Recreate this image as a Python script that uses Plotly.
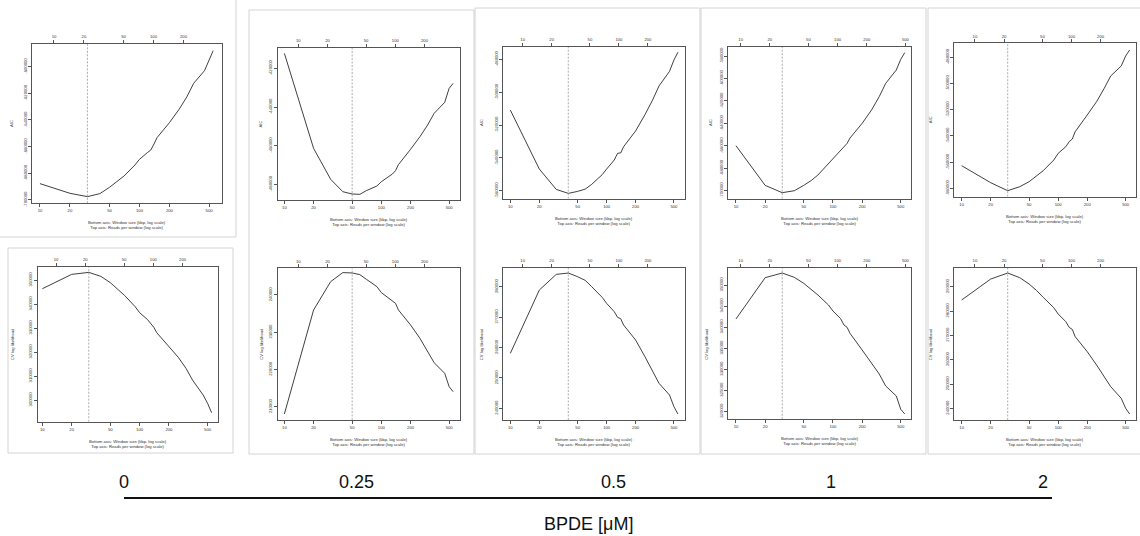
import math
import plotly.graph_objects as go

W, H = 1140, 536

# ---------------- data ----------------
WINDOW_KBP = [10, 20, 30, 40, 50, 60, 70, 90, 100, 120, 130, 140, 150,
              200, 250, 300, 350, 450, 500, 550]
DOSES = ["0", "0.25", "0.5", "1", "2"]
OPTIMUM_KBP = [30, 50, 40, 30, 30]
READS_PER_KBP = [0.723, 0.718, 0.745, 0.895, 0.728]
WINDOW_TICKS = [10, 20, 50, 100, 200, 500]
READS_TICKS = [10, 20, 50, 100, 200, 500]

AIC_0 = [-687750, -695000, -697500, -695250, -690500, -686250, -682000, -673750,
         -669500, -664500, -662500, -658000, -653250, -642000, -632000, -622500,
         -612500, -603000, -595000, -588000]
AIC_025 = [-412240, -461380, -477410, -483790, -485000, -485170, -483270, -480860,
           -478620, -476030, -474650, -472930, -469820, -461890, -455340, -449310,
           -443270, -437590, -430340, -427760]
AIC_05 = [-510900, -546800, -559200, -561600, -560400, -559000, -556100, -550200,
          -546800, -541300, -537200, -537000, -533200, -523600, -513700, -504800,
          -496200, -487300, -480400, -475700]
AIC_1 = [-659890, -695240, -701770, -699990, -695240, -690780, -686030, -675630,
         -671180, -664350, -660190, -657810, -653060, -639990, -628110, -616230,
         -604350, -592470, -582970, -577030]
AIC_2 = [-562680, -575650, -581760, -578710, -574890, -570570, -566500, -558360,
         -553270, -548180, -544360, -542330, -536730, -524010, -513840, -503660,
         -494250, -486610, -478980, -474400]

CV_0 = [346390, 352360, 353190, 351530, 348890, 346110, 343610, 338890, 336390,
        333610, 331670, 330280, 328060, 322220, 317780, 313190, 308330, 302080,
        298610, 294720]
CV_025 = [208050, 235970, 243580, 246000, 245910, 245460, 244210, 242240, 240630,
          239110, 238390, 237760, 235970, 231950, 228360, 224790, 221830, 218970,
          215390, 214050]
CV_05 = [258080, 278900, 284060, 284490, 283290, 282080, 280000, 276490, 274520,
         271780, 269920, 269480, 267400, 262470, 256980, 252270, 248220, 244380,
         240540, 238130]
CV_1 = [341930, 351740, 352850, 351820, 350400, 348970, 347630, 345250, 343830,
        342010, 340510, 339950, 338530, 334580, 331410, 328880, 326030, 323660,
        320500, 319390]
CV_2 = [284520, 293150, 295620, 293700, 291100, 288360, 285620, 281370, 278770,
        275620, 273290, 272460, 269450, 263290, 257810, 253010, 248900, 244110,
        240000, 237670]

AIC_TICKS = [
    [-600000, -620000, -640000, -660000, -680000, -700000],
    [-420000, -440000, -460000, -480000],
    [-480000, -500000, -520000, -540000, -560000],
    [-580000, -600000, -620000, -640000, -660000, -680000, -700000],
    [-480000, -500000, -520000, -540000, -560000, -580000],
]
CV_TICKS = [
    [300000, 310000, 320000, 330000, 340000, 350000],
    [210000, 220000, 230000, 240000],
    [240000, 250000, 260000, 270000, 280000],
    [320000, 325000, 330000, 335000, 340000, 345000, 350000],
    [240000, 250000, 260000, 270000, 280000, 290000],
]

SERIES = [AIC_0, AIC_025, AIC_05, AIC_1, AIC_2, CV_0, CV_025, CV_05, CV_1, CV_2]
YTICKS = AIC_TICKS + CV_TICKS
YTITLES = ["AIC"] * 5 + ["CV log likelihood"] * 5
XTITLE = "Bottom axis: Window size (kbp, log scale)<br>Top axis: Reads per window (log scale)"

# ---------------- layout (pixels) ----------------
# frame: left, right, top, bottom
FRAMES = [
    (32.3, 221.7, 44.0, 203.3),
    (277.7, 460.0, 47.7, 200.0),
    (503.3, 685.3, 46.7, 198.7),
    (728.3, 911.0, 46.7, 198.7),
    (954.3, 1136.0, 43.3, 196.7),
    (37.7, 218.3, 266.7, 421.7),
    (277.7, 460.0, 268.3, 420.0),
    (503.3, 685.3, 267.7, 420.0),
    (728.3, 911.0, 267.7, 419.3),
    (954.3, 1136.0, 267.7, 420.0),
]
XRANGES = [
    (0.923, 2.826), (0.931, 2.811), (0.927, 2.817), (0.921, 2.805), (0.924, 2.806),
    (0.952, 2.809), (0.931, 2.811), (0.927, 2.817), (0.921, 2.805), (0.924, 2.806),
]
YRANGES = [
    (-702500, -583000), (-488100, -409310), (-564850, -472300),
    (-707120, -571680), (-586340, -469320),
    (290970, 355560), (206440, 247160), (236160, 286250),
    (318120, 354110), (235200, 297810),
]
YTITLE_OFF = [21, 17, 22, 18, 23, 25, 17, 21, 22, 23]

FONT = "Liberation Sans, Arial, Helvetica, sans-serif"
small = dict(family=FONT, size=4.2, color="#333")
FRAME_C = "#555"

fig = go.Figure()
layout = {}
annotations = []
shapes = []

def axname(prefix, n):
    return prefix + ("" if n == 1 else str(n))

for i in range(10):
    col = i % 5
    l, r, t, b = FRAMES[i]
    xb, xt, yy = 2 * i + 1, 2 * i + 2, i + 1
    xr = XRANGES[i]
    shift = math.log10(READS_PER_KBP[col])
    layout[axname("xaxis", xb)] = dict(
        type="log", range=list(xr), domain=[l / W, r / W], anchor=axname("y", yy),
        tickvals=WINDOW_TICKS, ticktext=[str(v) for v in WINDOW_TICKS],
        ticks="outside", ticklen=3, tickwidth=0.6, tickcolor=FRAME_C,
        showline=True, mirror=True, linecolor=FRAME_C, linewidth=0.8,
        showgrid=False, zeroline=False, tickfont=small, fixedrange=True,
        automargin=False)
    layout[axname("xaxis", xt)] = dict(
        type="log", range=[xr[0] + shift, xr[1] + shift], overlaying=axname("x", xb),
        anchor=axname("y", yy), side="top",
        tickvals=READS_TICKS, ticktext=[str(v) for v in READS_TICKS],
        ticks="outside", ticklen=3, tickwidth=0.6, tickcolor=FRAME_C,
        showline=False, showgrid=False, zeroline=False, tickfont=small,
        fixedrange=True, automargin=False)
    layout[axname("yaxis", yy)] = dict(
        range=list(YRANGES[i]), domain=[1 - b / H, 1 - t / H], anchor=axname("x", xb),
        tickvals=YTICKS[i], ticktext=[str(v) for v in YTICKS[i]], tickangle=-90,
        ticks="outside", ticklen=3, tickwidth=0.6, tickcolor=FRAME_C,
        showline=True, mirror=True, linecolor=FRAME_C, linewidth=0.8,
        showgrid=False, zeroline=False, tickfont=small, fixedrange=True,
        automargin=False)

    vals = SERIES[i]
    fig.add_trace(go.Scatter(x=WINDOW_KBP, y=vals, mode="lines",
                             line=dict(color="#2a2a2a", width=0.9),
                             xaxis=axname("x", xb), yaxis=axname("y", yy),
                             hoverinfo="skip", showlegend=False))
    # invisible trace so the top (reads per window) axis is bound to the data
    fig.add_trace(go.Scatter(x=[w * READS_PER_KBP[col] for w in WINDOW_KBP], y=vals,
                             mode="lines", line=dict(width=0), opacity=0,
                             xaxis=axname("x", xt), yaxis=axname("y", yy),
                             hoverinfo="skip", showlegend=False))
    opt = OPTIMUM_KBP[col]
    fig.add_trace(go.Scatter(x=[opt, opt], y=list(YRANGES[i]), mode="lines",
                             line=dict(color="#8a8a8a", width=0.7, dash="2px,1.5px"),
                             xaxis=axname("x", xb), yaxis=axname("y", yy),
                             hoverinfo="skip", showlegend=False))

    annotations.append(dict(text=YTITLES[i], x=(l - YTITLE_OFF[i]) / W,
                            y=1 - (t + b) / 2 / H, xref="paper", yref="paper",
                            textangle=-90, showarrow=False, font=small,
                            xanchor="center", yanchor="middle"))
    annotations.append(dict(text=XTITLE, x=(l + r) / 2 / W, y=1 - (b + 22) / H,
                            xref="paper", yref="paper", showarrow=False, font=small,
                            xanchor="center", yanchor="middle"))

# light grey panel borders
BORDER = "#d4d4d4"
def hline(x0, x1, y):
    shapes.append(dict(type="line", xref="paper", yref="paper", x0=x0 / W, x1=x1 / W,
                       y0=1 - y / H, y1=1 - y / H, line=dict(color=BORDER, width=1)))
def vline(x, y0, y1):
    shapes.append(dict(type="line", xref="paper", yref="paper", x0=x / W, x1=x / W,
                       y0=1 - y0 / H, y1=1 - y1 / H, line=dict(color=BORDER, width=1)))
def rect(x0, y0, x1, y1):
    shapes.append(dict(type="rect", xref="paper", yref="paper", x0=x0 / W, x1=x1 / W,
                       y0=1 - y1 / H, y1=1 - y0 / H, line=dict(color=BORDER, width=1)))

hline(0, 236, 237)
vline(236, 0, 237)
rect(8, 248, 233, 453)
rect(249, 10, 474, 454)
rect(475, 8, 700, 454)
rect(701, 8, 926, 454)
rect(928, 8, 1145, 454)

# dose labels, line and title
DOSE_X = [124, 357, 613, 831, 1043]
for d, xpx in zip(DOSES, DOSE_X):
    annotations.append(dict(text=d, x=xpx / W, y=1 - 482 / H, xref="paper", yref="paper",
                            showarrow=False, xanchor="center", yanchor="middle",
                            font=dict(family=FONT, size=18, color="#111")))
shapes.append(dict(type="line", xref="paper", yref="paper", x0=124 / W, x1=1052 / W,
                   y0=1 - 498 / H, y1=1 - 498 / H, line=dict(color="#111", width=2)))
annotations.append(dict(text="BPDE [μM]", x=588 / W, y=1 - 524 / H, xref="paper",
                        yref="paper", showarrow=False, xanchor="center", yanchor="middle",
                        font=dict(family=FONT, size=18, color="#111")))

fig.update_layout(**layout)
fig.update_layout(width=W, height=H, margin=dict(l=0, r=0, t=0, b=0),
                  paper_bgcolor="white", plot_bgcolor="white",
                  annotations=annotations, shapes=shapes, showlegend=False)

fig.write_html("out.html")
